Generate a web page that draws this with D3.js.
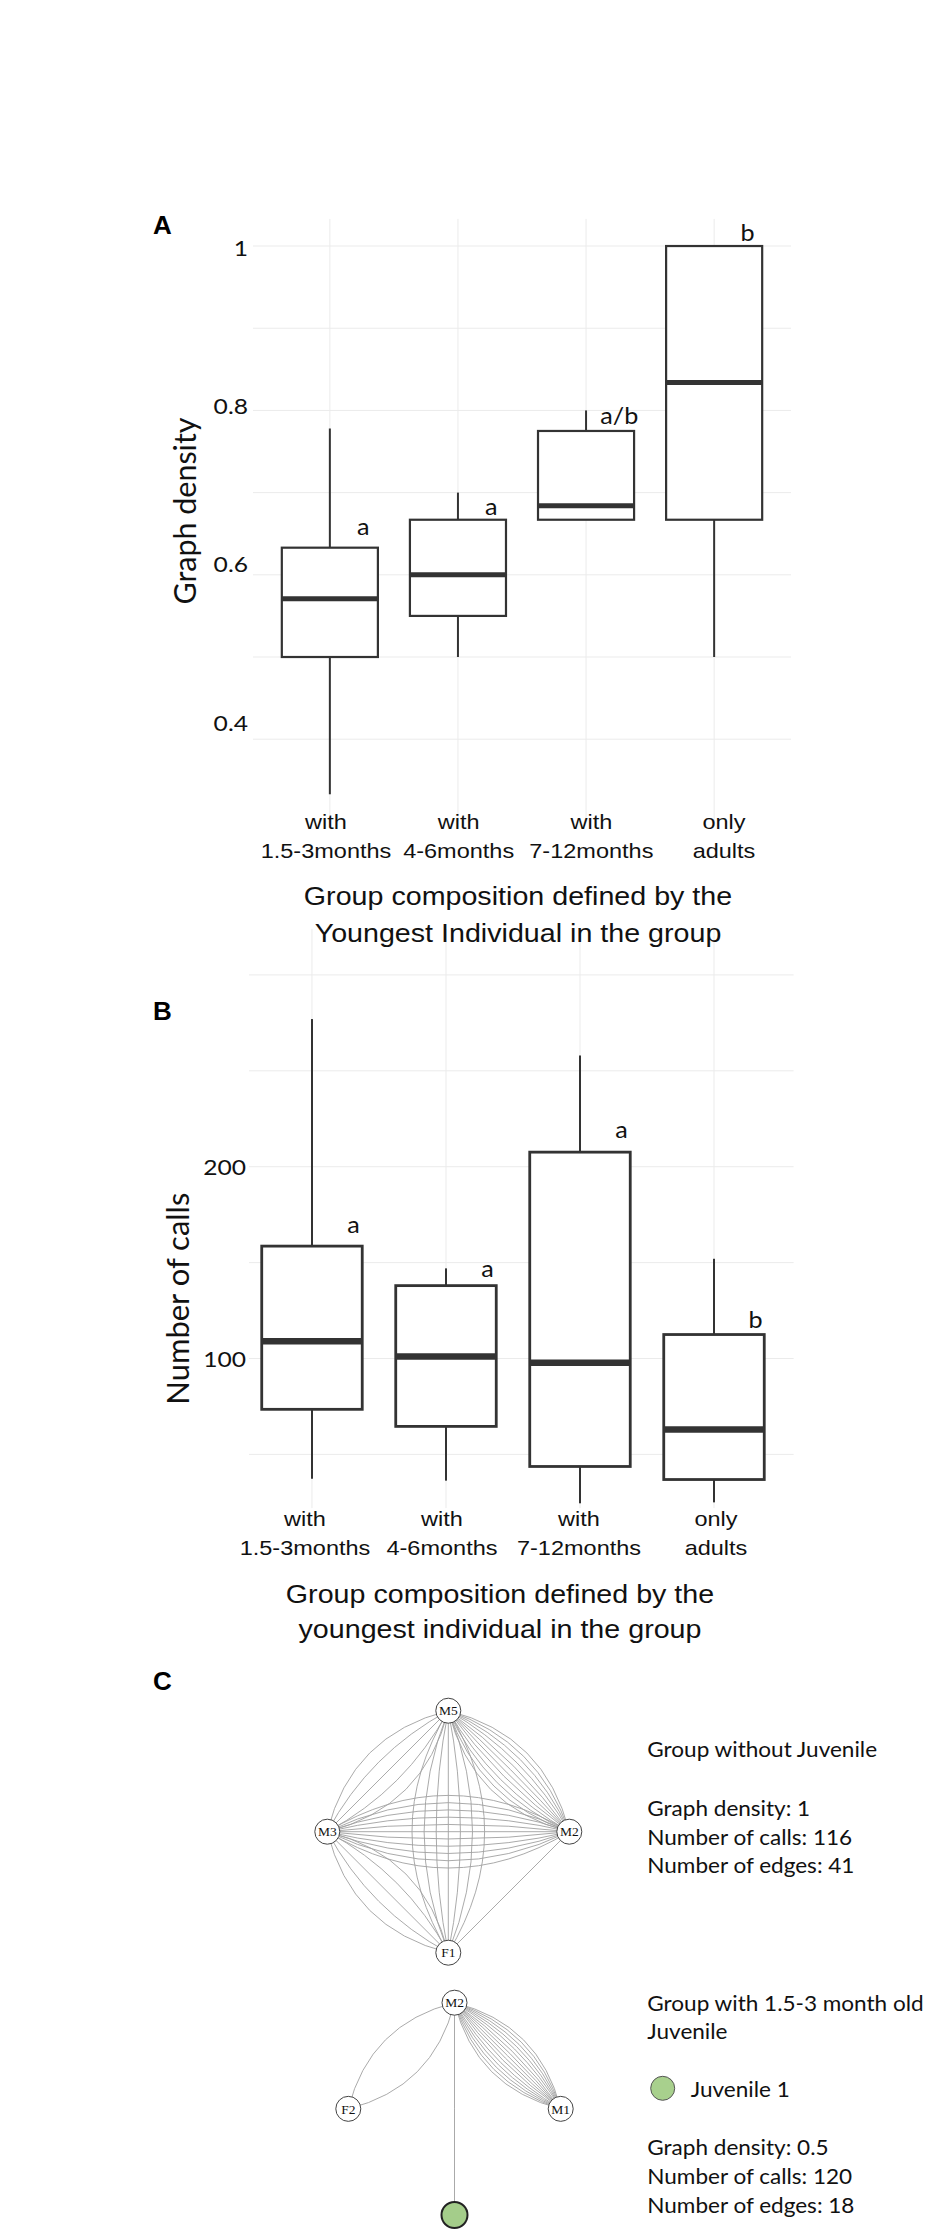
<!DOCTYPE html>
<html><head><meta charset="utf-8">
<script src="https://cdn.jsdelivr.net/npm/d3@7"></script>
<style>body{margin:0;background:#fff} svg{display:block}</style>
</head><body>
<svg id="c" width="942" height="2232"></svg>
<script>
// ---------------- DATA ----------------
const categories = ["with 1.5-3months", "with 4-6months", "with 7-12months", "only adults"];

// Panel A: graph density
const densityMin    = [0.333, 0.50, 0.667, 0.50];
const densityQ1     = [0.50, 0.55, 0.667, 0.667];
const densityMedian = [0.571, 0.60, 0.684, 0.834];
const densityQ3     = [0.633, 0.667, 0.775, 1.00];
const densityMax    = [0.778, 0.70, 0.80, 1.00];
const densityLetters = ["a", "a", "a/b", "b"];
const densityLetterY = [0.648, 0.673, 0.7835, 1.006];
const densityTicks = [0.4, 0.6, 0.8, 1];
const densityTickLabels = ["0.4", "0.6", "0.8", "1"];

// Panel B: number of calls
const callsMin    = [37.3, 36.3, 24.5, 25];
const callsQ1     = [73.5, 64.6, 43.7, 36.9];
const callsMedian = [109, 101, 97.8, 63];
const callsQ3     = [158.6, 138, 207.6, 112.5];
const callsMax    = [277, 147, 258, 152];
const callsLetters = ["a", "a", "a", "b"];
const callsLetterY = [165.4, 142.6, 215, 115.8];
const callsTicks = [100, 200];
const callsTickLabels = ["100", "200"];

// Panel C: networks
const netTopNodes = ["M5", "M3", "M2", "F1"];
const netTopLayoutX = [0, -1, 1, 0];
const netTopLayoutY = [1, 0, 0, -1];
const netTopEdgeFrom = ["M5", "M3", "M5", "M3", "M3", "F1"];
const netTopEdgeTo   = ["M2", "M2", "F1", "M5", "F1", "M2"];
const netTopEdgeCount = [12, 11, 7, 5, 5, 1];

const netBotNodes = ["M2", "F2", "M1", "J1"];
const netBotLayoutX = [0, -1, 1, 0];
const netBotLayoutY = [1, 0, 0, -1];
const netBotJuvenile = [false, false, false, true];
const netBotEdgeFrom = ["M2", "M2", "M2"];
const netBotEdgeTo   = ["M1", "F2", "J1"];
const netBotEdgeCount = [15, 2, 1];

const infoTopTitle = ["Group without Juvenile"];
const infoTopStats = ["Graph density: 1", "Number of calls: 116", "Number of edges: 41"];
const infoBotTitle = ["Group with 1.5-3 month old", "Juvenile"];
const infoBotLegend = ["Juvenile 1"];
const infoBotStats = ["Graph density: 0.5", "Number of calls: 120", "Number of edges: 18"];

// ---------------- DRAWING ----------------
const svg = d3.select("#c");
svg.append("rect").attr("width", 942).attr("height", 2232).attr("fill", "#fff");
const gridLayer = svg.append("g");
const markLayer = svg.append("g");

const SANS = "'Liberation Sans', Arial, Helvetica, sans-serif";
const LATO = "Lato, 'Open Sans', sans-serif";
const SERIF = "'Liberation Serif', 'Times New Roman', serif";
const SX = 1.12, SXL = 1.12;
const INK = "#111";
const BOX = "#333";
const GRID = "#ebebeb";

function txt(g, str, x, y, o = {}) {
  let tr = `translate(${x},${y})`;
  if (o.rot) tr += ` rotate(${o.rot})`;
  tr += ` scale(${o.sx || 1},1)`;
  const t = g.append("text")
    .attr("transform", tr)
    .attr("text-anchor", o.anchor || "middle")
    .attr("dy", o.dy || null)
    .attr("fill", o.fill || INK)
    .style("font-family", o.font || SANS)
    .style("font-size", o.size + "px")
    .style("font-weight", o.weight || "normal")
    .text(str);
  if (o.fitLength) {
    const len = t.node().getComputedTextLength();
    if (len > 0) t.style("font-size", (o.size * o.fitLength / len) + "px");
  }
  return t;
}

function boxPanel(cfg) {
  const gg = gridLayer.append("g");
  const g = markLayer.append("g");
  const { x, y, mins, q1s, meds, q3s, maxs } = cfg;
  const [y0, y1] = y.range();
  const [x0, x1] = x.range();
  gg.selectAll("line.hg").data(cfg.grid).join("line")
    .attr("x1", x0).attr("x2", x1)
    .attr("y1", d => y(d)).attr("y2", d => y(d))
    .attr("stroke", GRID).attr("stroke-width", 1);
  gg.selectAll("line.vg").data(categories).join("line")
    .attr("x1", (d, i) => x(i + 1)).attr("x2", (d, i) => x(i + 1))
    .attr("y1", y0).attr("y2", y1)
    .attr("stroke", GRID).attr("stroke-width", 1);
  const bw = x(1 + cfg.boxW) - x(1);
  categories.forEach((c, i) => {
    const cx = x(i + 1);
    if (maxs[i] > q3s[i]) g.append("line").attr("x1", cx).attr("x2", cx)
      .attr("y1", y(q3s[i])).attr("y2", y(maxs[i])).attr("stroke", BOX).attr("stroke-width", cfg.whW);
    if (mins[i] < q1s[i]) g.append("line").attr("x1", cx).attr("x2", cx)
      .attr("y1", y(q1s[i])).attr("y2", y(mins[i])).attr("stroke", BOX).attr("stroke-width", cfg.whW);
    g.append("rect").attr("x", cx - bw / 2).attr("width", bw)
      .attr("y", y(q3s[i])).attr("height", y(q1s[i]) - y(q3s[i]))
      .attr("fill", "#fff").attr("stroke", BOX).attr("stroke-width", cfg.boxSW);
    g.append("line").attr("x1", cx - bw / 2).attr("x2", cx + bw / 2)
      .attr("y1", y(meds[i])).attr("y2", y(meds[i]))
      .attr("stroke", BOX).attr("stroke-width", cfg.medW);
    txt(g, cfg.letters[i], x(i + 1 + cfg.letterDx), y(cfg.letterY[i]),
      { font: LATO, size: cfg.letterSize, sx: 1.05 });
  });
  const ax = g.append("g").attr("transform", `translate(${cfg.tickX},0)`)
    .call(d3.axisLeft(cfg.yLab).tickValues(cfg.ticks)
      .tickFormat((d, i) => cfg.tickLabels[i]).tickSize(0).tickPadding(0));
  ax.select(".domain").remove();
  ax.selectAll("text").attr("fill", INK).attr("x", 0).attr("dy", "0.35em")
    .attr("transform", `scale(${SXL},1)`)
    .style("font-family", LATO).style("font-size", cfg.tickSize + "px");
  categories.forEach((c, i) => {
    const sp = c.indexOf(" ");
    const l1 = c.slice(0, sp), l2 = c.slice(sp + 1);
    txt(g, l1, cfg.xLab(i + 1), cfg.xLabY[0], { size: 21, sx: SX });
    txt(g, l2, cfg.xLab(i + 1), cfg.xLabY[1], { size: 21, sx: SX });
  });
  cfg.xTitle.forEach((t, k) => txt(g, t, cfg.xTitleX, cfg.xTitleY[k], { size: 25.6, sx: SX }));
  txt(g, cfg.yTitle, cfg.yTitlePos[0], cfg.yTitlePos[1],
    { font: LATO, size: 30, rot: -90, fitLength: cfg.yTitleLen });
  txt(g, cfg.panel, 153, cfg.panelY, { size: 26, weight: "bold", anchor: "start", fill: "#000" });
}

// Panel A
const xA = d3.scaleLinear().domain([0.4, 4.6]).range([253, 791]);
const yA = d3.scaleLinear().domain([0.3, 1.033]).range([821.4, 218.9]);
boxPanel({
  panel: "A", panelY: 234,
  x: xA, y: yA,
  grid: yA.ticks(8).filter(d => d >= 0.4 - 1e-9),
  mins: densityMin, q1s: densityQ1, meds: densityMedian, q3s: densityQ3, maxs: densityMax,
  boxW: 0.75, boxSW: 2.2, medW: 5, whW: 2,
  letters: densityLetters, letterY: densityLetterY, letterDx: 0.26, letterSize: 24,
  yLab: d3.scaleLinear().domain([0.4, 1]).range([722.7, 247.3]),
  ticks: densityTicks, tickLabels: densityTickLabels, tickX: 248, tickSize: 22,
  xLab: d3.scaleLinear().domain([1, 4]).range([326, 724]), xLabY: [829, 857.5],
  xTitle: ["Group composition defined by the", "Youngest Individual in the group"],
  xTitleX: 518, xTitleY: [905, 941.5],
  yTitle: "Graph density", yTitlePos: [196, 511], yTitleLen: 187
});

// Panel B
const xB = d3.scaleLinear().domain([0.53, 4.594]).range([249, 793.6]);
const yB = d3.scaleLinear().domain([22, 324]).range([1508.1, 928.9]);
boxPanel({
  panel: "B", panelY: 1020,
  x: xB, y: yB,
  grid: yB.ticks(6),
  mins: callsMin, q1s: callsQ1, meds: callsMedian, q3s: callsQ3, maxs: callsMax,
  boxW: 0.75, boxSW: 2.8, medW: 6.5, whW: 2,
  letters: callsLetters, letterY: callsLetterY, letterDx: 0.31, letterSize: 24,
  yLab: yB,
  ticks: callsTicks, tickLabels: callsTickLabels, tickX: 246, tickSize: 22,
  xLab: d3.scaleLinear().domain([1, 4]).range([305, 716]), xLabY: [1525.5, 1555],
  xTitle: ["Group composition defined by the", "youngest individual in the group"],
  xTitleX: 500, xTitleY: [1602.5, 1638],
  yTitle: "Number of calls", yTitlePos: [189, 1298.7], yTitleLen: 212
});

// Panel C
txt(markLayer, "C", 153, 1690, { size: 26, weight: "bold", anchor: "start", fill: "#000" });

function network(nodes, lx, ly, eFrom, eTo, eCount, xs, ys, juv) {
  const g = markLayer.append("g");
  const pos = {};
  nodes.forEach((n, i) => pos[n] = [xs(lx[i]), ys(ly[i])]);
  const S = 0.15;
  eFrom.forEach((a, k) => {
    const p = pos[a], q = pos[eTo[k]], n = eCount[k];
    const dx = q[0] - p[0], dy = q[1] - p[1], L = Math.hypot(dx, dy);
    const nx = -dy / L, ny = dx / L;
    const mx = (p[0] + q[0]) / 2, my = (p[1] + q[1]) / 2;
    d3.range(n).forEach(j => {
      const c = n === 1 ? 0 : -S + 2 * S * j / (n - 1);
      const path = d3.path();
      path.moveTo(p[0], p[1]);
      path.quadraticCurveTo(mx + nx * 2 * c * L, my + ny * 2 * c * L, q[0], q[1]);
      g.append("path").attr("d", path.toString()).attr("fill", "none")
        .attr("stroke", "#a0a0a0").attr("stroke-width", 0.9);
    });
  });
  nodes.forEach((n, i) => {
    const isJ = juv && juv[i];
    g.append("circle").attr("cx", pos[n][0]).attr("cy", pos[n][1])
      .attr("r", isJ ? 13 : 12.5)
      .attr("fill", isJ ? "#a4cd8a" : "#fff")
      .attr("stroke", isJ ? "#222" : "#444").attr("stroke-width", isJ ? 2 : 1);
    if (!isJ) txt(g, n, pos[n][0], pos[n][1], { font: SERIF, size: 13.5, dy: "0.35em" });
  });
}

network(netTopNodes, netTopLayoutX, netTopLayoutY, netTopEdgeFrom, netTopEdgeTo, netTopEdgeCount,
  d3.scaleLinear().domain([-1, 1]).range([327.3, 569.3]),
  d3.scaleLinear().domain([-1, 1]).range([1952.7, 1710.7]));
network(netBotNodes, netBotLayoutX, netBotLayoutY, netBotEdgeFrom, netBotEdgeTo, netBotEdgeCount,
  d3.scaleLinear().domain([-1, 1]).range([348.3, 560.7]),
  d3.scaleLinear().domain([-1, 1]).range([2215, 2002.7]), netBotJuvenile);

const CX = 647.3, CFS = 20.5;
infoTopTitle.forEach((t, k) => txt(markLayer, t, CX, 1757 + k * 28.6, { font: LATO, size: CFS, sx: 1.1, anchor: "start" }));
infoTopStats.forEach((t, k) => txt(markLayer, t, CX, 1816 + k * 28.6, { font: LATO, size: CFS, sx: 1.1, anchor: "start" }));
infoBotTitle.forEach((t, k) => txt(markLayer, t, CX, 2010.7 + k * 28.6, { font: LATO, size: CFS, sx: 1.1, anchor: "start" }));
markLayer.append("circle").attr("cx", 662.7).attr("cy", 2088.3).attr("r", 12)
  .attr("fill", "#a8d08d").attr("stroke", "#555").attr("stroke-width", 1);
infoBotLegend.forEach((t, k) => txt(markLayer, t, 690.7, 2096.7, { font: LATO, size: CFS, sx: 1.1, anchor: "start" }));
infoBotStats.forEach((t, k) => txt(markLayer, t, CX, 2155 + k * 28.8, { font: LATO, size: CFS, sx: 1.1, anchor: "start" }));
</script>
</body></html>
